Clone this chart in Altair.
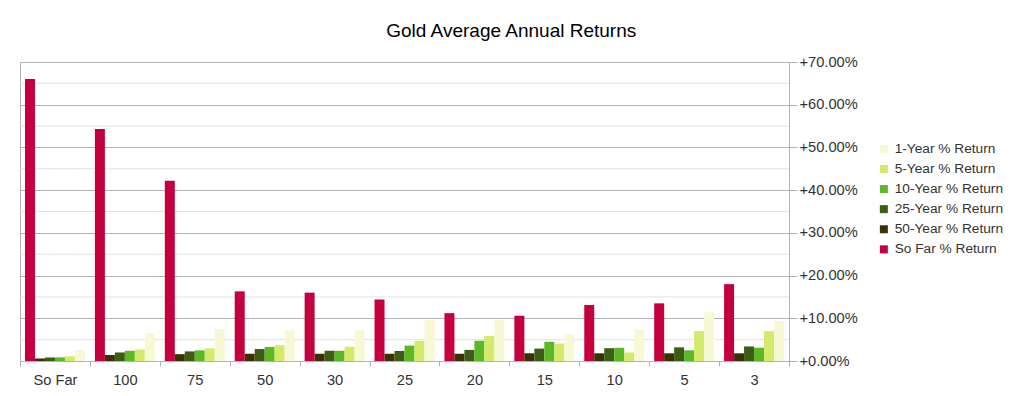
import altair as alt
import pandas as pd

categories = ["So Far", "100", "75", "50", "30", "25", "20", "15", "10", "5", "3"]
series_order = ["So Far % Return", "50-Year % Return", "25-Year % Return",
                "10-Year % Return", "5-Year % Return", "1-Year % Return"]
legend_order = ["1-Year % Return", "5-Year % Return", "10-Year % Return",
                "25-Year % Return", "50-Year % Return", "So Far % Return"]
colors = {
    "1-Year % Return": "#f6f9d4",
    "5-Year % Return": "#d4ea6b",
    "10-Year % Return": "#5cb825",
    "25-Year % Return": "#3d5c14",
    "50-Year % Return": "#3b3104",
    "So Far % Return": "#c5003e",
}

# values in percent, per category
so_far = [66.0, 54.3, 42.2, 16.3, 16.0, 14.4, 11.2, 10.6, 13.1, 13.5, 18.0]
y50 = [0.6, 1.4, 1.6, 1.7, 1.7, 1.7, 1.7, 1.8, 1.8, 1.8, 1.8]
y25 = [0.8, 2.0, 2.25, 2.8, 2.4, 2.35, 2.6, 2.9, 3.0, 3.2, 3.4]
y10 = [0.85, 2.4, 2.5, 3.3, 2.4, 3.6, 4.75, 4.5, 3.1, 2.5, 3.1]
y5 = [1.1, 2.7, 2.95, 3.7, 3.35, 4.7, 5.85, 4.1, 2.0, 7.0, 7.0]
y1 = [2.6, 6.5, 7.5, 7.2, 7.2, 9.6, 9.6, 6.2, 7.4, 11.4, 9.4]

major_ticks = [0, 10, 20, 30, 40, 50, 60, 70]
minor_ticks = [5, 15, 25, 35, 45, 55, 65]

series_values = {
    "So Far % Return": so_far,
    "50-Year % Return": y50,
    "25-Year % Return": y25,
    "10-Year % Return": y10,
    "5-Year % Return": y5,
    "1-Year % Return": y1,
}

rows = []
for s, vals in series_values.items():
    for c, v in zip(categories, vals):
        rows.append({"group": c, "series": s, "value": v / 100})
df = pd.DataFrame(rows)
minor_df = pd.DataFrame({"value": [t / 100 for t in minor_ticks]})

FONT = "Liberation Sans"
GRID = "#b3b3b3"
LBL = 14.67
LEG = 13.7

yscale = alt.Scale(domain=[0, 0.7], nice=False, zero=True)
y_axis = alt.Axis(orient="right", values=[t / 100 for t in major_ticks],
                  format="+.2%", grid=True, gridColor=GRID, tickColor=GRID,
                  tickSize=8, domainColor=GRID, labelFontSize=LBL,
                  labelFont=FONT, labelColor="#333333", labelPadding=2)

minor = alt.Chart(minor_df).mark_rule(color="#e2e2e2", strokeWidth=1).encode(
    y=alt.Y("value:Q", scale=yscale, title=None, axis=y_axis)
)

bars = alt.Chart(df).mark_bar().encode(
    x=alt.X("group:N", sort=categories, title=None,
            scale=alt.Scale(paddingInner=0, paddingOuter=0),
            axis=alt.Axis(labelAngle=0, tickBand="extent", tickSize=5, tickColor=GRID,
                          domain=False, labelFontSize=LBL, labelFont=FONT,
                          labelColor="#333333", labelPadding=6)),
    xOffset=alt.XOffset("series:N", sort=series_order,
                        scale=alt.Scale(paddingInner=0, paddingOuter=0.5)),
    y=alt.Y("value:Q", scale=yscale, title=None, axis=y_axis),
    color=alt.Color("series:N",
                    scale=alt.Scale(domain=legend_order,
                                    range=[colors[s] for s in legend_order]),
                    sort=legend_order,
                    legend=alt.Legend(title=None, orient="none", legendX=857, legendY=80,
                                      symbolType="square", symbolSize=64,
                                      symbolStrokeWidth=0, labelFontSize=LEG,
                                      labelFont=FONT, labelColor="#333333",
                                      rowPadding=5.1, labelOffset=4)),
)

chart = alt.layer(minor, bars).properties(
    width=769,
    height=299,
    title=alt.Title("Gold Average Annual Returns", font=FONT, fontSize=19,
                    fontWeight="normal", color="#000000", anchor="middle",
                    frame="bounds", offset=13),
    padding={"left": 12, "top": 54, "right": 227, "bottom": 26},
    autosize=alt.AutoSizeParams(type="none"),
).configure_view(stroke=GRID)

chart.save("out.html", embed_options={"renderer": "svg", "actions": False})
